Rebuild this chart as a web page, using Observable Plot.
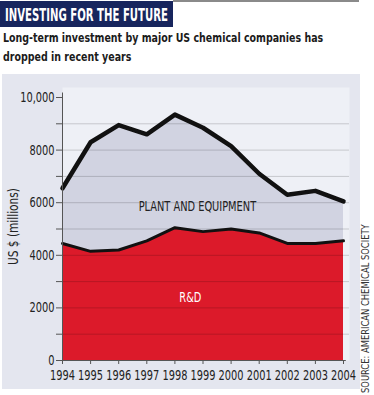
<!DOCTYPE html>
<html>
<head>
<meta charset="utf-8">
<script src="https://cdn.jsdelivr.net/npm/d3@7"></script>
<script src="https://cdn.jsdelivr.net/npm/@observablehq/plot@0.6"></script>
<style>
  html, body { margin: 0; padding: 0; background: #fff; }
  body { width: 374px; height: 395px; position: relative; overflow: hidden;
         font-family: "DejaVu Sans Condensed", "DejaVu Sans", sans-serif; }
  .sx { display: inline-block; white-space: nowrap; transform-origin: 0 0; }
  #topline { position: absolute; left: 173px; top: 0; width: 186px; height: 2px; background: #8a8a8a; }
  #title { position: absolute; left: 0; top: 1px; width: 173px; height: 26px; background: #17255d;
           color: #fff; font-weight: bold; font-size: 18px; line-height: 18px; padding: 5px 0 0 5px; box-sizing: border-box;
           white-space: nowrap; overflow: hidden; }
  #title .sx { transform: scaleX(0.625); }
  #subtitle { position: absolute; left: 3px; top: 28px; width: 370px; color: #1b1b1b; font-weight: bold;
              font-size: 13px; line-height: 19px; }
  #subtitle .sx { transform: scaleX(0.81); display: block; }
  #panel { position: absolute; left: 2px; top: 74px; width: 358px; height: 315px; background: #e4e6ef; }
  #chart { position: absolute; left: 0; top: 74px; }
  .rot { position: absolute; transform-origin: 0 0; white-space: nowrap; line-height: 1; }
  #source { left: 361px; top: 393px; transform: rotate(-90deg) scaleX(0.93); font-size: 10px; color: #333; }
  #ylabel { left: 6px; top: 265px; transform: rotate(-90deg) scaleX(0.84); font-size: 14px; color: #222; }
</style>
</head>
<body>
<div id="topline"></div>
<div id="title"><span class="sx">INVESTING FOR THE FUTURE</span></div>
<div id="subtitle"><span class="sx">Long-term investment by major US chemical companies has</span><span class="sx">dropped in recent years</span></div>
<div id="panel"></div>
<div id="chart"></div>
<div id="ylabel" class="rot">US $ (millions)</div>
<div id="source" class="rot">SOURCE: AMERICAN CHEMICAL SOCIETY</div>
<script>
// Data (US$ millions)
const years = [1994, 1995, 1996, 1997, 1998, 1999, 2000, 2001, 2002, 2003, 2004];
const totalInvestment = [6550, 8300, 8950, 8600, 9350, 8850, 8150, 7100, 6300, 6450, 6050];
const rdInvestment = [4450, 4150, 4200, 4550, 5050, 4900, 5000, 4850, 4450, 4450, 4550];

// Axis ticks
const yTickValues = [0, 1000, 2000, 3000, 4000, 5000, 6000, 7000, 8000, 9000, 10000];
const yTickLabels = ["0", "", "2000", "", "4000", "", "6000", "", "8000", "", "10,000"];
const gridValues = [1000, 2000, 3000, 4000, 5000, 6000, 7000, 8000, 9000];
const xTickLabels = ["1994", "1995", "1996", "1997", "1998", "1999", "2000", "2001", "2002", "2003", "2004"];

const areaLabels = [
  {text: "PLANT AND EQUIPMENT", x: 1998.8, y: 5850, fill: "#222", weight: "normal"},
  {text: "R&D", x: 1998.55, y: 2380, fill: "#fff", weight: "bold"}
];

const rows = years.map((yr, i) => ({year: yr, total: totalInvestment[i], rd: rdInvestment[i]}));
const font = '"DejaVu Sans Condensed", "DejaVu Sans", sans-serif';

const chart = Plot.plot({
  width: 374,
  height: 321,
  marginLeft: 62,
  marginRight: 25,
  marginTop: 13,
  marginBottom: 35,
  style: {background: "transparent", fontFamily: font, fontSize: "14px", color: "#222"},
  x: {domain: [1994, 2004], range: [62, 343]},
  y: {domain: [0, 10000], range: [286, 23]},
  marks: [
    Plot.frame({fill: "#eef0f6", stroke: null}),
    Plot.areaY(rows, {x: "year", y1: "rd", y2: "total", fill: "#d1d3e1"}),
    Plot.areaY(rows, {x: "year", y1: 0, y2: "rd", fill: "#dc1a2a"}),
    Plot.ruleY(gridValues, {stroke: "#000", strokeOpacity: 0.17, strokeWidth: 1}),
    Plot.line(rows, {x: "year", y: "rd", stroke: "#111", strokeWidth: 3, strokeLinejoin: "round"}),
    Plot.line(rows, {x: "year", y: "total", stroke: "#111", strokeWidth: 4.5, strokeLinejoin: "round"}),
    Plot.ruleY([0], {stroke: "#555", strokeWidth: 1, x1: 1993.9, x2: 2004.1}),
    Plot.ruleX([1994], {stroke: "#555", strokeWidth: 1, y1: 0, y2: 10170}),
    Plot.axisY({
      ticks: yTickValues, tickSize: 6, tickPadding: 2, stroke: "#555",
      tickFormat: d => yTickLabels[yTickValues.indexOf(d)],
      fontSize: 14, fill: "#222", label: null
    }),
    Plot.axisX({
      ticks: years, tickSize: 4, tickPadding: 6, stroke: "#555",
      tickFormat: d => xTickLabels[years.indexOf(d)],
      fontSize: 14, fill: "#222", label: null
    }),
    Plot.text(areaLabels, {x: "x", y: "y", text: "text", fill: "fill", fontWeight: "weight", fontSize: 14})
  ]
});

// Narrow the installed condensed font further so it matches the reference's very condensed face
chart.querySelectorAll("text").forEach(t => {
  const tr = t.getAttribute("transform") || "";
  t.setAttribute("transform", (tr + " scale(0.78,1)").trim());
});
document.getElementById("chart").appendChild(chart);
</script>
</body>
</html>
